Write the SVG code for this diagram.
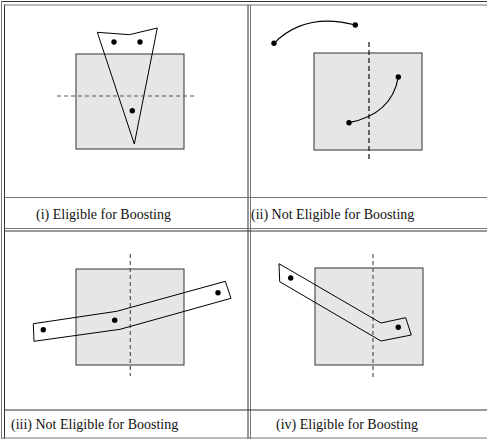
<svg xmlns="http://www.w3.org/2000/svg" width="487" height="439" viewBox="0 0 487 439">
<style>
.frame{stroke:#333;stroke-width:1;fill:none}
.frame2{stroke:#777;stroke-width:1;fill:none}
.box{fill:#e6e6e6;stroke:#333;stroke-width:1}
.shape{fill:none;stroke:#000;stroke-width:1}
.band{fill:none;stroke:#000;stroke-width:1}
.curve{fill:none;stroke:#000;stroke-width:1.2}
.dash{stroke:#555;stroke-width:1.2;stroke-dasharray:4,3;fill:none}
.dashk{stroke:#111;stroke-width:1.2;stroke-dasharray:5,3;fill:none}
.dot{fill:#000}
.cap{font-family:"Liberation Serif","Times New Roman",serif;font-size:14px;fill:#111}
</style>
<rect width="487" height="439" fill="#fff"/>
<g id="frame">
<line class="frame2" x1="1.5" y1="1.5" x2="1.5" y2="439"/>
<line class="frame" x1="4.5" y1="4.5" x2="4.5" y2="439"/>
<line class="frame" x1="1.5" y1="1.5" x2="487" y2="1.5"/>
<line class="frame2" x1="4.5" y1="5" x2="487" y2="5"/>
<line class="frame" x1="248" y1="5" x2="248" y2="439"/>
<line class="frame2" x1="250.5" y1="5" x2="250.5" y2="439"/>
<line class="frame2" x1="5" y1="197.5" x2="487" y2="197.5"/>
<line class="frame2" x1="5" y1="228.5" x2="487" y2="228.5"/>
<line class="frame" x1="5" y1="231" x2="487" y2="231"/>
<line class="frame" x1="5" y1="410" x2="487" y2="410"/>
<line class="frame2" x1="1.5" y1="438" x2="487" y2="438"/>
</g>
<g id="panel-i">
<rect class="box" x="76" y="54" width="108" height="95"/>
<polygon class="shape" points="97.3,32.3 129.3,34.7 157.3,28 134.3,144"/>
<line class="dash" x1="57" y1="96" x2="197" y2="96"/>
<circle class="dot" cx="114" cy="42" r="2.7"/>
<circle class="dot" cx="140" cy="42" r="2.7"/>
<circle class="dot" cx="132.3" cy="110.7" r="2.7"/>
<text class="cap" x="36" y="219">(i) Eligible for Boosting</text>
</g>
<g id="panel-ii">
<rect class="box" x="314" y="53" width="108" height="97"/>
<line class="dashk" x1="369" y1="42" x2="369" y2="162"/>
<path class="curve" d="M274,43.3 Q305,12 355.3,25"/>
<path class="curve" d="M349,122.7 Q392,114 398.3,77"/>
<circle class="dot" cx="274" cy="43.3" r="2.7"/>
<circle class="dot" cx="355.3" cy="25" r="2.7"/>
<circle class="dot" cx="349" cy="122.7" r="2.7"/>
<circle class="dot" cx="398.3" cy="77" r="2.7"/>
<text class="cap" x="251" y="219">(ii) Not Eligible for Boosting</text>
</g>
<g id="panel-iii">
<rect class="box" x="76" y="269" width="108" height="96"/>
<line class="dash" x1="130.3" y1="254" x2="130.3" y2="376"/>
<polygon class="band" points="33.3,323.7 116.7,311.3 225.3,281.3 231,298.3 120,329.3 34,341.3"/>
<circle class="dot" cx="43.3" cy="329.7" r="2.7"/>
<circle class="dot" cx="114.7" cy="320.3" r="2.7"/>
<circle class="dot" cx="218" cy="292.7" r="2.7"/>
<text class="cap" x="11" y="429">(iii) Not Eligible for Boosting</text>
</g>
<g id="panel-iv">
<rect class="box" x="315" y="268" width="108" height="97"/>
<line class="dash" x1="373" y1="254" x2="373" y2="378"/>
<polygon class="band" points="279,263.7 381,323 405.7,317.7 411.3,335 381,341 279.7,281.7"/>
<circle class="dot" cx="290.7" cy="278" r="2.7"/>
<circle class="dot" cx="398.3" cy="327.3" r="2.7"/>
<text class="cap" x="276" y="429">(iv) Eligible for Boosting</text>
</g>
<g id="connectors"></g>
</svg>
